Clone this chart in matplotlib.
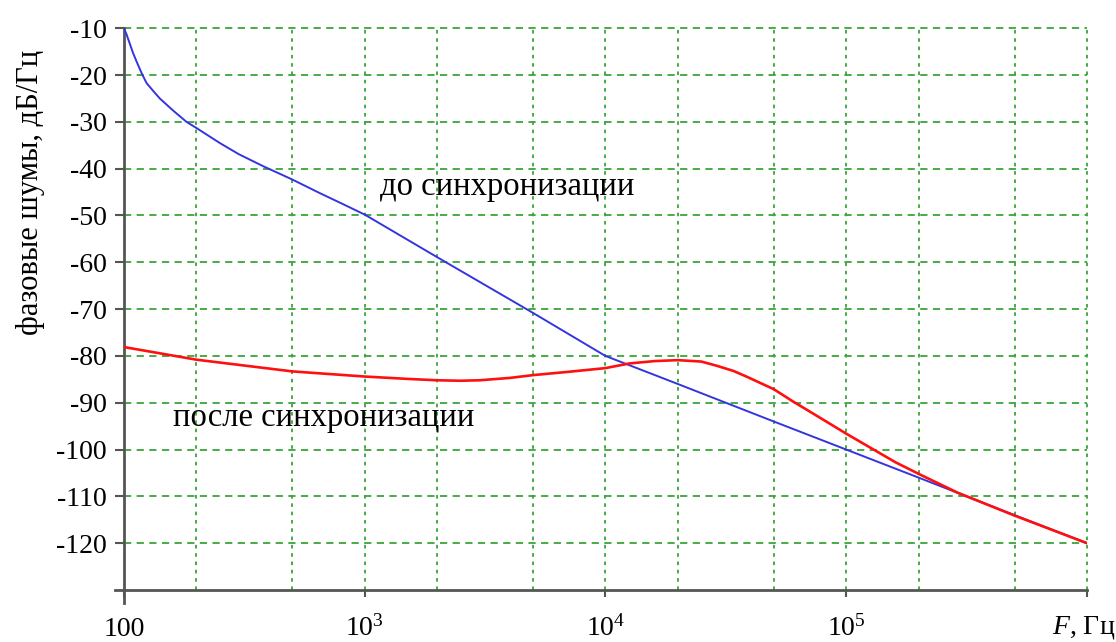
import matplotlib
matplotlib.use("Agg")
import matplotlib.pyplot as plt
from matplotlib.ticker import FixedLocator, NullFormatter

plt.rcParams["font.family"] = ["Liberation Serif", "DejaVu Serif"]
plt.rcParams["mathtext.fontset"] = "custom"
plt.rcParams["mathtext.rm"] = "Liberation Serif"
plt.rcParams["mathtext.it"] = "Liberation Serif:italic"

# phase noise before synchronisation (blue)
f_before = [100, 101.2, 102.6, 104, 106, 109, 112.9, 118.5, 124.2, 132.4,
            141, 160.3, 182, 200, 250, 300, 380, 500, 650, 800, 1000, 2000,
            5000, 1e4, 2e4, 5e4, 1e5, 2e5, 5e5, 1e6]
pn_before = [-10, -10.6, -11.3, -12.2, -13.4, -15.2, -17.1, -19.6, -21.7,
             -23.4, -25.0, -27.6, -30, -31.3, -34.5, -36.9, -39.5, -42.3,
             -45.2, -47.4, -49.8, -58.9, -70.8, -80, -86, -94, -100, -106,
             -114, -120]

# phase noise after synchronisation (red)
f_after = [100, 200, 500, 1000, 1500, 2000, 2500, 3000, 4000, 5000, 7000, 1e4,
           1.26e4, 1.6e4, 2e4, 2.5e4, 2.9e4, 3.4e4, 3.85e4, 5e4, 6e4, 7.5e4,
           1e5, 1.26e5, 1.6e5, 2e5, 2.9e5, 5e5, 1e6]
pn_after = [-78.1, -80.8, -83.3, -84.4, -84.9, -85.2, -85.3, -85.2, -84.7,
            -84.1, -83.4, -82.6, -81.6, -81.1, -80.9, -81.2, -82.1, -83.2,
            -84.4, -87.1, -89.7, -92.7, -96.6, -99.6, -102.7, -105.2, -109.2,
            -114.1, -120]

y_ticks = list(range(-10, -121, -10))
x_major = [100, 1e3, 1e4, 1e5, 1e6]
x_labels = ["100", "$10^{3}$", "$10^{4}$", "$10^{5}$", ""]
x_grid = [200, 500, 2000, 5000, 2e4, 5e4, 2e5, 5e5]

label_before = "до синхронизации"
label_after = "после синхронизации"
y_title = "фазовые шумы, дБ/Гц"
x_title = "$F$, Гц"

grid_color = "#3aa53a"
axis_color = "#555555"

fig = plt.figure(figsize=(11.16, 6.42), dpi=100)
ax = fig.add_axes([0.111, 0.081, 0.863, 0.875])

ax.set_xscale("log")
ax.set_xlim(100, 1e6)
ax.set_ylim(-130, -10)

# grid
for y in y_ticks:
    ax.axhline(y, color=grid_color, lw=1.3, ls=(0, (4, 3)), zorder=1, clip_on=False)
for x in x_grid + x_major[1:]:
    ax.axvline(x, color=grid_color, lw=1.3, ls=(0, (2, 2.6)), zorder=1, clip_on=False)

ax.plot(f_before, pn_before, color="#3434e0", lw=1.4, zorder=3)
ax.plot(f_after, pn_after, color="#ff1010", lw=1.9, zorder=3)

ax.text(1157, -43.8, label_before, fontsize=23.5, ha="left", va="center")
ax.text(160, -93.1, label_after, fontsize=23.5, ha="left", va="center")

for side in ("top", "right"):
    ax.spines[side].set_visible(False)
for side in ("left", "bottom"):
    ax.spines[side].set_color(axis_color)
    ax.spines[side].set_linewidth(2)
ax.spines["left"].set_bounds(-132.8, -10)
ax.spines["bottom"].set_bounds(91.7, 1e6)

ax.yaxis.set_major_locator(FixedLocator(y_ticks))
ax.set_yticklabels([str(v) for v in y_ticks])
ax.tick_params(axis="y", length=6.5, width=1.5, color=axis_color,
               labelsize=20, pad=6)

ax.xaxis.set_major_locator(FixedLocator(x_major))
ax.xaxis.set_minor_locator(FixedLocator([]))
ax.xaxis.set_minor_formatter(NullFormatter())
ax.set_xticklabels(x_labels)
ax.tick_params(axis="x", length=5, width=1.5, color=axis_color,
               labelsize=20, pad=28)
for lab in ax.get_xticklabels():
    lab.set_verticalalignment("baseline")

fig.text(0.999, 0.014, x_title, fontsize=20, ha="right", va="baseline")
fig.text(0.027, 0.70, y_title, fontsize=22, rotation=90, ha="center", va="center")

fig.savefig("out.png", dpi=100)
